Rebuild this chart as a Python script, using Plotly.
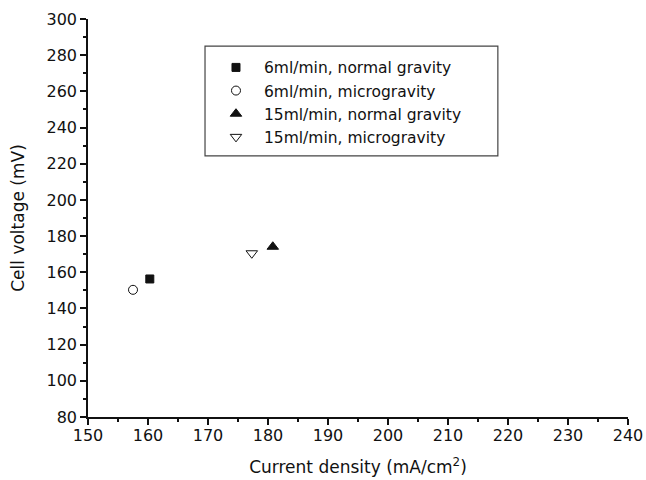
import plotly.graph_objects as go

series_names = ["6ml/min, normal gravity", "6ml/min, microgravity",
                "15ml/min, normal gravity", "15ml/min, microgravity"]
current_density = [160.3, 157.5, 180.8, 177.3]
cell_voltage = [156.3, 150.3, 174.1, 170.5]
symbols = ["square", "circle-open", "triangle-up", "triangle-down-open"]
sizes = [8, 9, 10, 10]

FONT = "DejaVu Sans, Liberation Sans, Arial, sans-serif"
INK = "#111111"

fig = go.Figure()
for i, (name, x, y, s, sz) in enumerate(zip(series_names, current_density, cell_voltage, symbols, sizes)):
    fig.add_trace(go.Scatter(
        x=[x], y=[y], mode="markers", name=name,
        marker=dict(symbol=s, size=sz, color=INK,
                    line=dict(color=INK, width=1)),
    ))

axis_common = dict(
    showgrid=False, zeroline=False, showline=True, linecolor=INK, linewidth=1.5,
    ticks="outside", ticklen=6, tickwidth=1.5, tickcolor=INK,
    tickfont=dict(size=16, color=INK, family=FONT),
    minor=dict(ticks="outside", ticklen=3, tickwidth=1.5, tickcolor=INK),
    automargin=False,
)

fig.update_xaxes(range=[150, 240], tick0=150, dtick=10,
                 title=dict(text="Current density (mA/cm<sup>2</sup>)", font=dict(size=17, color=INK, family=FONT), standoff=17),
                 minor_dtick=5, ticklabelstandoff=-3, **axis_common)
fig.update_yaxes(range=[80, 300], tick0=80, dtick=20,
                 title=dict(text="Cell voltage (mV)", font=dict(size=17, color=INK, family=FONT), standoff=18),
                 minor_dtick=10, **axis_common)

# legend frame
fig.add_shape(type="rect", xref="paper", yref="paper",
              x0=0.2167, x1=0.759, y0=0.656, y1=0.932,
              line=dict(color="#444444", width=1.2), fillcolor="rgba(0,0,0,0)")

fig.update_layout(
    width=646, height=480,
    margin=dict(l=88, r=18, t=19, b=63),
    plot_bgcolor="white", paper_bgcolor="white",
    font=dict(family=FONT, color=INK),
    legend=dict(x=0.2222, y=0.920, xanchor="left", yanchor="top",
                borderwidth=0, bgcolor="rgba(0,0,0,0)",
                font=dict(size=15.5, color=INK, family=FONT), tracegroupgap=0,
                itemwidth=46),
    showlegend=True,
)

fig.write_html("out.html")
